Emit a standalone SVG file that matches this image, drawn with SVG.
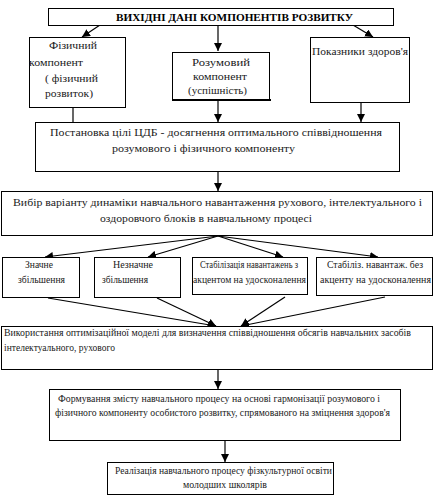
<svg xmlns="http://www.w3.org/2000/svg" width="438" height="497" viewBox="0 0 438 497">
<style>
.b{fill:#fff;stroke:#000;stroke-width:1}
.t{font-family:"Liberation Serif","DejaVu Serif",serif;font-size:10.5px;fill:#1a1a1a}
.h{font-family:"Liberation Serif","DejaVu Serif",serif;font-size:10.5px;font-weight:bold;fill:#000}
.c{stroke:#000;stroke-width:1.2;fill:none}
</style>
<defs>
<marker id="a" markerUnits="userSpaceOnUse" markerWidth="9" markerHeight="8" refX="8" refY="4" orient="auto">
<path d="M0,0 L8,4 L0,8 Z" fill="#000"/>
</marker>
</defs>
<rect width="438" height="497" fill="#fff"/>

<g id="connectors">
<line class="c" x1="100" y1="25" x2="82" y2="37" marker-end="url(#a)"/>
<line class="c" x1="218" y1="25" x2="218" y2="51" marker-end="url(#a)"/>
<line class="c" x1="353" y1="25" x2="373" y2="37" marker-end="url(#a)"/>
<line class="c" x1="73" y1="108" x2="73" y2="122"/>
<line class="c" x1="218" y1="100" x2="218" y2="122" stroke-width="2.2" marker-end="url(#a)"/>
<line class="c" x1="361" y1="103" x2="361" y2="122" marker-end="url(#a)"/>
<line class="c" x1="218" y1="172" x2="218" y2="191" marker-end="url(#a)"/>
<line class="c" x1="218" y1="236" x2="45" y2="257" marker-end="url(#a)"/>
<line class="c" x1="218" y1="236" x2="148" y2="257" marker-end="url(#a)"/>
<line class="c" x1="218" y1="236" x2="283" y2="257" marker-end="url(#a)"/>
<line class="c" x1="218" y1="236" x2="378" y2="257" marker-end="url(#a)"/>
<line class="c" x1="48" y1="298" x2="216" y2="326" marker-end="url(#a)"/>
<line class="c" x1="157" y1="298" x2="216" y2="326" marker-end="url(#a)"/>
<line class="c" x1="285" y1="297" x2="241" y2="326" marker-end="url(#a)"/>
<line class="c" x1="385" y1="297" x2="241" y2="326" marker-end="url(#a)"/>
<line class="c" x1="218" y1="370" x2="218" y2="389" marker-end="url(#a)"/>
<line class="c" x1="225" y1="441" x2="225" y2="462" marker-end="url(#a)"/>
</g>

<g id="n-title">
<rect class="b" x="48.5" y="8.5" width="345" height="17"/>
<text class="h" x="116" y="21" textLength="237" lengthAdjust="spacingAndGlyphs">ВИХІДНІ ДАНІ КОМПОНЕНТІВ РОЗВИТКУ</text>
</g>

<g id="n-fiz">
<rect class="b" x="29.5" y="37.5" width="96" height="70"/>
<text class="t" x="49" y="49" textLength="48" lengthAdjust="spacingAndGlyphs">Фізичний</text>
<text class="t" x="29" y="66" textLength="54" lengthAdjust="spacingAndGlyphs">компонент</text>
<text class="t" x="45" y="82" textLength="53" lengthAdjust="spacingAndGlyphs">( фізичний</text>
<text class="t" x="45" y="97" textLength="48" lengthAdjust="spacingAndGlyphs">розвиток)</text>
</g>

<g id="n-rozum">
<rect class="b" x="172.5" y="52.5" width="97" height="47"/>
<line x1="172" y1="100" x2="271" y2="100" stroke="#000" stroke-width="2"/>
<text class="t" x="192" y="66" textLength="58" lengthAdjust="spacingAndGlyphs">Розумовий</text>
<text class="t" x="193" y="80" textLength="54" lengthAdjust="spacingAndGlyphs">компонент</text>
<text class="t" x="188" y="94" textLength="59" lengthAdjust="spacingAndGlyphs">(успішність)</text>
</g>

<g id="n-zdorov">
<rect class="b" x="310.5" y="37.5" width="99" height="65"/>
<text class="t" x="312" y="55" textLength="96" lengthAdjust="spacingAndGlyphs">Показники здоров'я</text>
</g>

<g id="n-postanovka">
<rect class="b" x="35.5" y="122.5" width="364" height="49"/>
<text class="t" x="50" y="136" textLength="332" lengthAdjust="spacingAndGlyphs">Постановка цілі ЦДБ - досягнення оптимального співвідношення</text>
<text class="t" x="112" y="152" textLength="183" lengthAdjust="spacingAndGlyphs">розумового і фізичного компоненту</text>
</g>

<g id="n-vybir">
<rect class="b" x="1.5" y="191.5" width="431" height="44"/>
<text class="t" x="13" y="206" textLength="409" lengthAdjust="spacingAndGlyphs">Вибір варіанту динаміки навчального навантаження рухового, інтелектуального і</text>
<text class="t" x="100" y="222" textLength="212" lengthAdjust="spacingAndGlyphs">оздоровчого блоків в навчальному процесі</text>
</g>

<g id="n-znachne">
<rect class="b" x="2.5" y="257.5" width="77" height="40"/>
<text class="t" x="25" y="268" textLength="28" lengthAdjust="spacingAndGlyphs">Значне</text>
<text class="t" x="18" y="283" textLength="47" lengthAdjust="spacingAndGlyphs">збільшення</text>
</g>

<g id="n-neznachne">
<rect class="b" x="94.5" y="257.5" width="86" height="40"/>
<text class="t" x="113" y="268" textLength="40" lengthAdjust="spacingAndGlyphs">Незначне</text>
<text class="t" x="102" y="283" textLength="46" lengthAdjust="spacingAndGlyphs">збільшення</text>
</g>

<g id="n-stab1">
<rect class="b" x="192.5" y="257.5" width="115" height="37"/>
<text class="t" x="200" y="268" textLength="98" lengthAdjust="spacingAndGlyphs">Стабілізація навантажень з</text>
<text class="t" x="193" y="283" textLength="113" lengthAdjust="spacingAndGlyphs">акцентом на удосконалення</text>
</g>

<g id="n-stab2">
<rect class="b" x="316.5" y="257.5" width="116" height="38"/>
<text class="t" x="327" y="268" textLength="96" lengthAdjust="spacingAndGlyphs">Стабіліз. навантаж. без</text>
<text class="t" x="320" y="283" textLength="111" lengthAdjust="spacingAndGlyphs">акценту на удосконалення</text>
</g>

<g id="n-vykorystannya">
<rect class="b" x="1.5" y="326.5" width="431" height="43"/>
<text class="t" x="4" y="336" textLength="407" lengthAdjust="spacingAndGlyphs">Використання оптимізаційної моделі для визначення співвідношення обсягів навчальних засобів</text>
<text class="t" x="4" y="351" textLength="111" lengthAdjust="spacingAndGlyphs">інтелектуального, рухового</text>
</g>

<g id="n-formuvannya">
<rect class="b" x="49.5" y="389.5" width="351" height="51"/>
<text class="t" x="58" y="402" textLength="322" lengthAdjust="spacingAndGlyphs">Формування змісту навчального процесу на основі гармонізації розумового і</text>
<text class="t" x="55" y="416" textLength="335" lengthAdjust="spacingAndGlyphs">фізичного компоненту особистого розвитку, спрямованого на зміцнення здоров'я</text>
</g>

<g id="n-realizatsiya">
<rect class="b" x="107.5" y="462.5" width="226" height="32"/>
<text class="t" x="115" y="474" textLength="217" lengthAdjust="spacingAndGlyphs">Реалізація навчального процесу фізкультурної освіти</text>
<text class="t" x="183" y="488" textLength="84" lengthAdjust="spacingAndGlyphs">молодших школярів</text>
</g>
</svg>
